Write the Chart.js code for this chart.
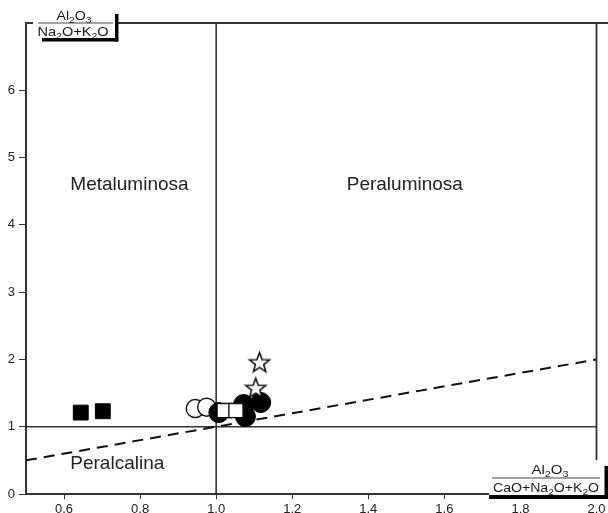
<!DOCTYPE html>
<html>
<head>
<meta charset="utf-8">
<script src="https://cdn.jsdelivr.net/npm/chart.js@4.4.1/dist/chart.umd.min.js"></script>
<style>
  html, body { margin: 0; padding: 0; background: #fff; }
  #wrap { width: 608px; height: 513px; }
</style>
</head>
<body>
<div id="wrap"><canvas id="shand" width="608" height="513"></canvas></div>
<script>
// tick labels
const xTicks = [0.6, 0.8, 1.0, 1.2, 1.4, 1.6, 1.8, 2.0];
const yTicks = [0, 1, 2, 3, 4, 5, 6];

// samples (A/CNK, A/NK)
const blackSquares = [{ x: 0.644, y: 1.21 }, { x: 0.702, y: 1.23 }];
const openCircles = [{ x: 0.945, y: 1.27 }, { x: 0.975, y: 1.29 }];
const openSquares = [{ x: 1.021, y: 1.24 }, { x: 1.052, y: 1.24 }];
const blackCircles = [
  { x: 1.007, y: 1.21 }, { x: 1.077, y: 1.15 },
  { x: 1.072, y: 1.33 }, { x: 1.117, y: 1.36 },
];
const openStars = [{ x: 1.104, y: 1.58 }, { x: 1.114, y: 1.96 }];

// field boundaries
const boundaryX = [{ x: 1.0, y: 0 }, { x: 1.0, y: 7 }];
const boundaryY = [{ x: 0.5, y: 1.0 }, { x: 2.0, y: 1.0 }];
const alkaliLine = [{ x: 0.5, y: 0.5 }, { x: 2.0, y: 2.0 }];

// field names
const fieldNames = ["Metaluminosa", "Peraluminosa", "Peralcalina"];
const fieldPos = [{ x: 0.772, y: 4.59 }, { x: 1.496, y: 4.59 }, { x: 0.74, y: 0.45 }];

const ink = "#111";
const FONT = "'Liberation Sans', Arial, sans-serif";

// five point star marker
function makeStar(r) {
  const c = document.createElement("canvas");
  c.width = c.height = r * 2 + 4;
  const ctx = c.getContext("2d");
  const cx = c.width / 2, cy = c.height / 2 + 1;
  ctx.beginPath();
  for (let i = 0; i < 10; i++) {
    const rad = i % 2 === 0 ? r : r * 0.42;
    const a = -Math.PI / 2 + i * Math.PI / 5;
    const px = cx + rad * Math.cos(a), py = cy + rad * Math.sin(a);
    i === 0 ? ctx.moveTo(px, py) : ctx.lineTo(px, py);
  }
  ctx.closePath();
  ctx.fillStyle = "#fff";
  ctx.fill();
  ctx.lineWidth = 1.6;
  ctx.strokeStyle = ink;
  ctx.stroke();
  return c;
}

// chemical formula with subscript digits, stretched to a width
function drawChem(ctx, text, cx, base, size, targetW) {
  const parts = text.split("").map((ch) => ({ ch, sub: /[0-9]/.test(ch) }));
  let w = 0;
  parts.forEach((p) => {
    ctx.font = (p.sub ? size * 0.72 : size) + "px " + FONT;
    p.w = ctx.measureText(p.ch).width;
    w += p.w;
  });
  const sx = targetW ? targetW / w : 1;
  ctx.save();
  ctx.translate(cx - (w * sx) / 2, base);
  ctx.scale(sx, 1);
  ctx.fillStyle = "#1a1a1a";
  ctx.textBaseline = "alphabetic";
  ctx.textAlign = "left";
  let x = 0;
  parts.forEach((p) => {
    ctx.font = (p.sub ? size * 0.72 : size) + "px " + FONT;
    ctx.fillText(p.ch, x, p.sub ? size * 0.2 : 0);
    x += p.w;
  });
  ctx.restore();
}

const decorations = {
  id: "decorations",
  afterDraw(chart) {
    const ctx = chart.ctx;
    const xs = chart.scales.x, ys = chart.scales.y;
    const top = chart.chartArea.top, right = chart.chartArea.right;

    // field names
    ctx.save();
    ctx.fillStyle = "#222";
    ctx.font = "19px " + FONT;
    ctx.textAlign = "center";
    ctx.textBaseline = "middle";
    fieldNames.forEach((t, i) => {
      ctx.fillText(t, xs.getPixelForValue(fieldPos[i].x), ys.getPixelForValue(fieldPos[i].y));
    });

    // frame
    ctx.strokeStyle = "#333";
    ctx.lineWidth = 1.8;
    ctx.beginPath();
    ctx.moveTo(118, top); ctx.lineTo(608, top);
    ctx.moveTo(right, top); ctx.lineTo(right, 462);
    ctx.moveTo(26, top); ctx.lineTo(33, top);
    ctx.stroke();

    // y axis label box
    ctx.fillStyle = "#fff";
    ctx.fillRect(36, 2, 79, 36);
    ctx.fillStyle = "#000";
    ctx.fillRect(42, 38, 76, 3.5);
    ctx.fillRect(115, 14, 3.5, 27.5);
    ctx.strokeStyle = "#444";
    ctx.lineWidth = 1;
    ctx.beginPath();
    ctx.moveTo(38, top); ctx.lineTo(113, top);
    ctx.stroke();
    drawChem(ctx, "Al2O3", 74, 20, 13, 35);
    drawChem(ctx, "Na2O+K2O", 73, 36, 13, 71);

    // x axis label box
    ctx.fillStyle = "#fff";
    ctx.fillRect(489, 460, 115, 35);
    ctx.fillStyle = "#000";
    ctx.fillRect(489, 495, 119, 4);
    ctx.fillRect(604.5, 466, 3.5, 33);
    ctx.strokeStyle = "#444";
    ctx.beginPath();
    ctx.moveTo(492, 478); ctx.lineTo(600, 478);
    ctx.stroke();
    drawChem(ctx, "Al2O3", 550, 474, 13, 37);
    drawChem(ctx, "CaO+Na2O+K2O", 546, 492, 13, 106);
    ctx.restore();
  },
};

const chart = new Chart(document.getElementById("shand").getContext("2d"), {
  type: "scatter",
  data: {
    datasets: [
      {
        data: openStars,
        pointStyle: makeStar(10.5),
        pointRadius: 10,
      },
      {
        data: openSquares,
        pointStyle: "rect",
        pointRadius: 10,
        backgroundColor: "#fff",
        borderColor: ink,
        borderWidth: 1.4,
      },
      {
        data: blackCircles,
        pointStyle: "circle",
        pointRadius: 10,
        backgroundColor: "#000",
        borderColor: "#000",
        borderWidth: 1,
      },
      {
        data: openCircles,
        pointStyle: "circle",
        pointRadius: 9,
        backgroundColor: "#fff",
        borderColor: ink,
        borderWidth: 1.4,
      },
      {
        data: blackSquares,
        pointStyle: "rect",
        pointRadius: 10.5,
        backgroundColor: "#000",
        borderColor: "#000",
        borderWidth: 1,
      },
      {
        type: "line",
        data: alkaliLine,
        borderColor: "#111",
        borderWidth: 2,
        borderDash: [11, 7],
        pointRadius: 0,
      },
      {
        type: "line",
        data: boundaryY,
        borderColor: "#333",
        borderWidth: 1.6,
        pointRadius: 0,
      },
      {
        type: "line",
        data: boundaryX,
        borderColor: "#333",
        borderWidth: 1.6,
        pointRadius: 0,
      },
    ],
  },
  plugins: [decorations],
  options: {
    responsive: false,
    animation: false,
    layout: { padding: { top: 23, right: 8, left: 0, bottom: 0 } },
    plugins: {
      legend: { display: false },
      tooltip: { enabled: false },
    },
    scales: {
      x: {
        type: "linear",
        min: 0.5,
        max: 2.0,
        afterFit: (s) => {
          s.height = 19;
          s.paddingLeft = 0;
          s.paddingRight = 0;
        },
        afterBuildTicks: (s) => { s.ticks = xTicks.map((v) => ({ value: v })); },
        ticks: {
          autoSkip: false,
          maxRotation: 0,
          padding: 3,
          color: "#222",
          font: { family: FONT, size: 13 },
          callback: (v) => Number(v).toFixed(1),
        },
        grid: { display: true, drawOnChartArea: false, drawTicks: true, tickLength: 5, color: "#333", lineWidth: 1 },
        border: { display: true, color: "#333", width: 2 },
      },
      y: {
        type: "linear",
        min: 0,
        max: 7,
        afterFit: (s) => {
          s.width = 26;
          s.paddingTop = 0;
          s.paddingBottom = 0;
        },
        afterBuildTicks: (s) => { s.ticks = yTicks.map((v) => ({ value: v })); },
        ticks: {
          padding: 4,
          color: "#222",
          font: { family: FONT, size: 13 },
        },
        grid: { display: true, drawOnChartArea: false, drawTicks: true, tickLength: 7, color: "#333", lineWidth: 1 },
        border: { display: true, color: "#333", width: 2 },
      },
    },
  },
});
</script>
</body>
</html>
